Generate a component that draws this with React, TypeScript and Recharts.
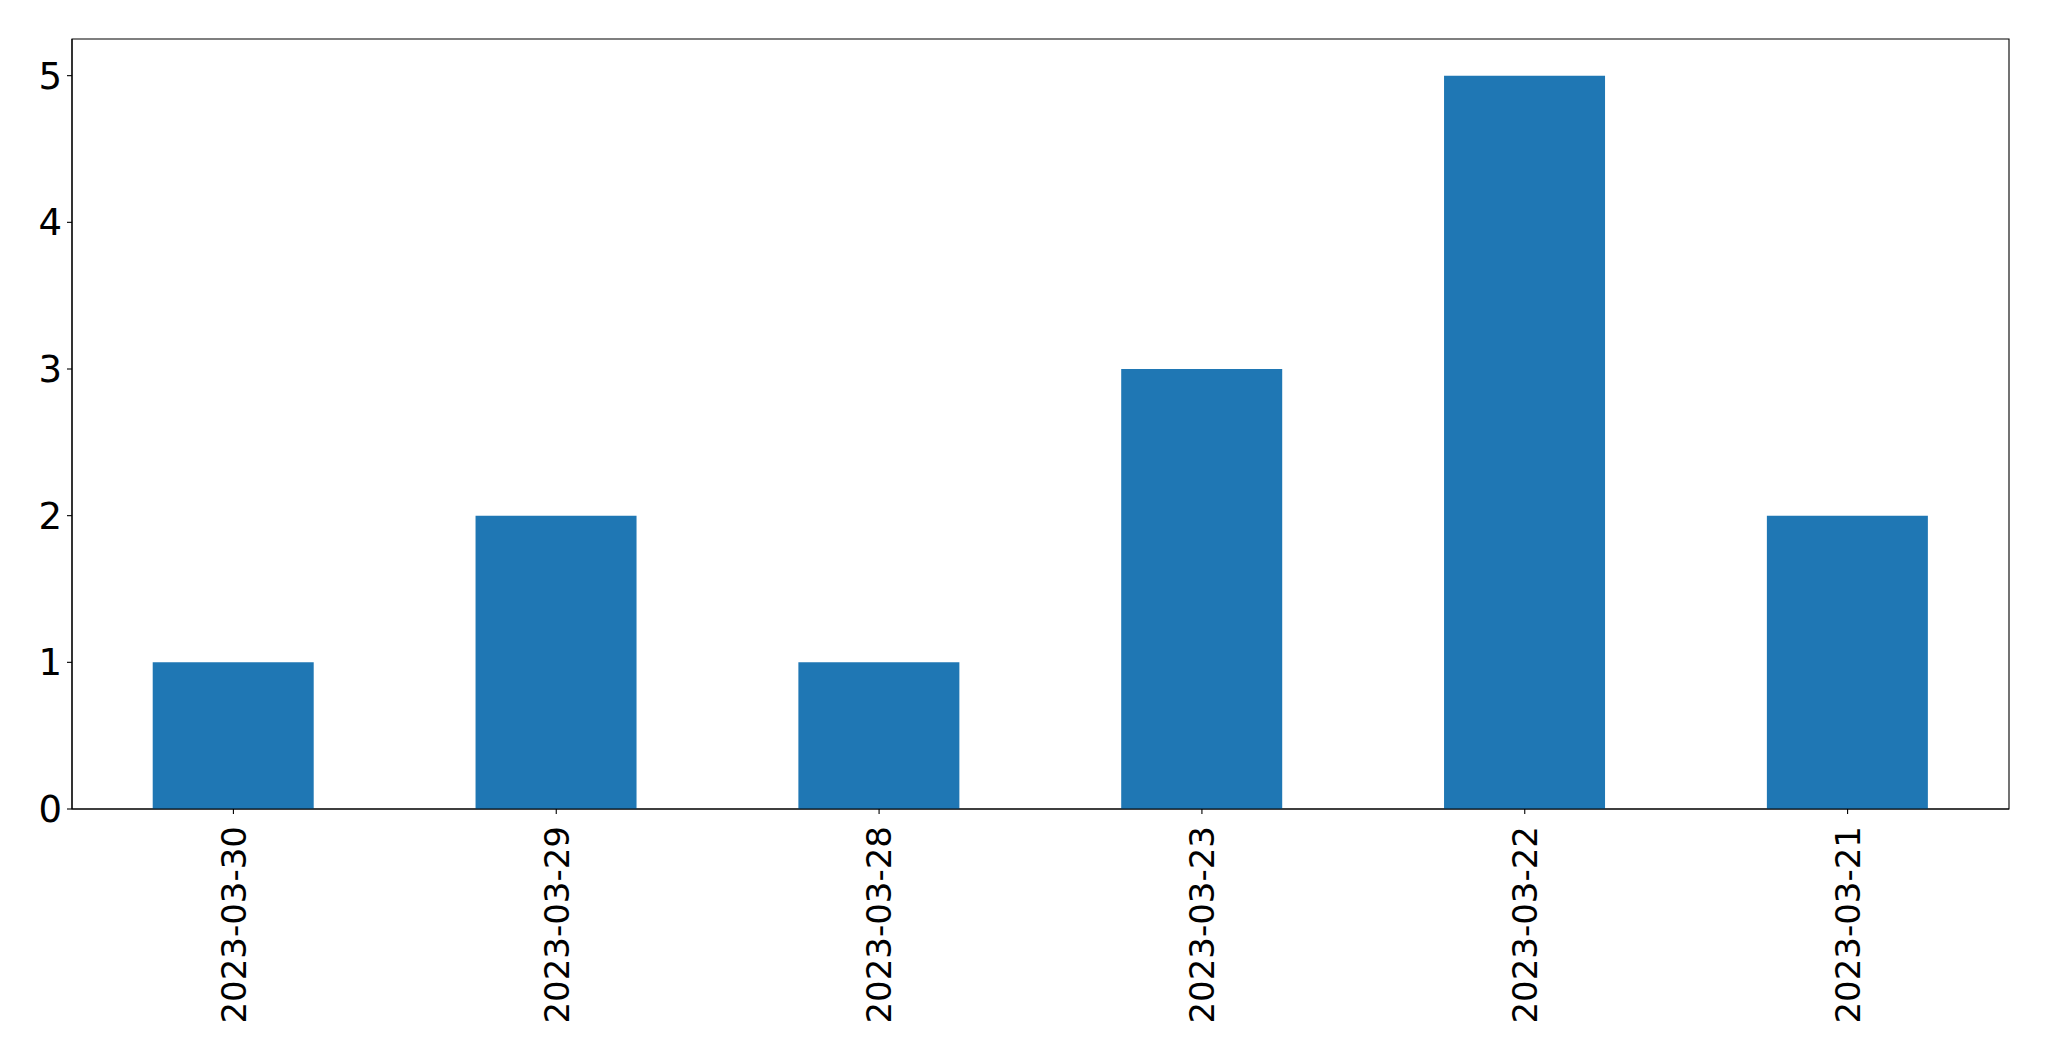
import React from "react";
import { BarChart, Bar, XAxis, YAxis, ReferenceArea } from "recharts";

const dates = ["2023-03-30", "2023-03-29", "2023-03-28", "2023-03-23", "2023-03-22", "2023-03-21"];
const counts = [1, 2, 1, 3, 5, 2];
const yTicks = [0, 1, 2, 3, 4, 5];
const yMax = 5.25;

const data = dates.map((d, i) => ({ date: d, count: counts[i] }));

const FONT = "DejaVu Sans";

const XTick = (props: any) => {
  const { x, y, payload } = props;
  return (
    <g transform={`translate(${x},${y})`}>
      <text
        transform="rotate(-90)"
        textAnchor="end"
        dy="0.36em"
        fontSize={34}
        fontFamily={FONT}
        fill="#000"
      >
        {payload.value}
      </text>
    </g>
  );
};

export default function App() {
  return (
    <div style={{ position: "absolute", left: 0, top: 0, width: 2049, height: 1061, background: "#fff" }}>
      <BarChart
        width={2049}
        height={1061}
        data={data}
        margin={{ top: 39, right: 40, bottom: 0, left: 0 }}
        barCategoryGap="25%"
      >
        <XAxis
          dataKey="date"
          height={252}
          tickSize={5}
          tickMargin={12}
          tick={<XTick />}
          axisLine={{ stroke: "#000", strokeWidth: 1.1 }}
          tickLine={{ stroke: "#000", strokeWidth: 1.1 }}
          interval={0}
        />
        <YAxis
          width={72}
          domain={[0, yMax]}
          ticks={yTicks}
          tickSize={5}
          tickMargin={5}
          tick={{ fontSize: 37, fontFamily: FONT, fill: "#000" }}
          axisLine={{ stroke: "#000", strokeWidth: 1.1 }}
          tickLine={{ stroke: "#000", strokeWidth: 1.1 }}
          allowDataOverflow
        />
        <Bar dataKey="count" fill="#1f77b4" isAnimationActive={false} />
        <ReferenceArea
          y1={0}
          y2={yMax}
          fill="none"
          fillOpacity={0}
          stroke="#000"
          strokeWidth={1.1}
          ifOverflow="visible"
        />
      </BarChart>
    </div>
  );
}
